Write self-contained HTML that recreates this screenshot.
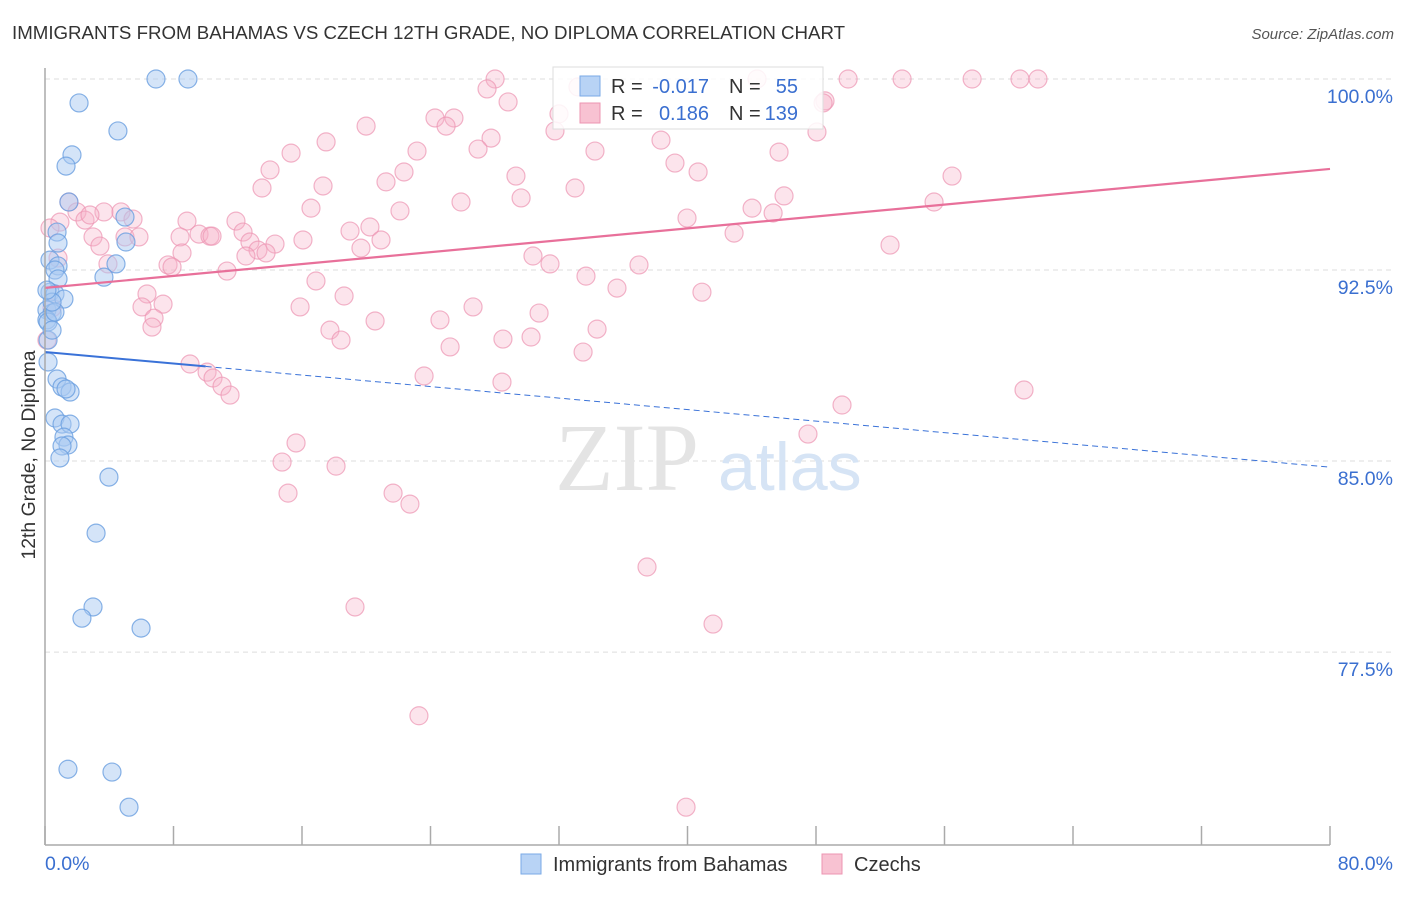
<!DOCTYPE html>
<html><head><meta charset="utf-8"><style>
body{margin:0;background:#fff;font-family:"Liberation Sans",sans-serif}
svg text{font-family:"Liberation Sans",sans-serif}
</style></head><body>
<svg id="chart" width="1406" height="892" xmlns="http://www.w3.org/2000/svg">
<text x="12" y="39" font-size="18.7" fill="#333">IMMIGRANTS FROM BAHAMAS VS CZECH 12TH GRADE, NO DIPLOMA CORRELATION CHART</text>
<text x="1394" y="39" font-size="15" fill="#555" font-style="italic" text-anchor="end">Source: ZipAtlas.com</text>
<g id="grid"></g>
<text x="555" y="490" font-size="96" fill="#e4e4e4" style="font-family:'Liberation Serif',serif">ZIP</text>
<text x="718" y="490" font-size="68" fill="#d6e4f5">atlas</text>
<g id="pts"></g>
<g id="lines"></g>
<g id="axes"></g>
<text transform="translate(35,455) rotate(-90)" font-size="19.4" fill="#333" text-anchor="middle">12th Grade, No Diploma</text>
<g>
<rect x="553" y="67" width="270" height="62" fill="#fff" fill-opacity="0.85" stroke="#ddd"/>
<rect x="580" y="76" width="20" height="20" fill="#b8d3f5" stroke="#7aa9e6"/>
<rect x="580" y="103" width="20" height="20" fill="#f8c2d2" stroke="#ec94b2"/>
<text x="611" y="93" font-size="20" fill="#333">R =</text><text x="709" y="93" font-size="20" fill="#3a6fd0" text-anchor="end">-0.017</text>
<text x="729" y="93" font-size="20" fill="#333">N =</text><text x="798" y="93" font-size="20" fill="#3a6fd0" text-anchor="end">55</text>
<text x="611" y="120" font-size="20" fill="#333">R =</text><text x="709" y="120" font-size="20" fill="#3a6fd0" text-anchor="end">0.186</text>
<text x="729" y="120" font-size="20" fill="#333">N =</text><text x="798" y="120" font-size="20" fill="#3a6fd0" text-anchor="end">139</text>
</g>
<g>
<rect x="521" y="854" width="20" height="20" fill="#b8d3f5" stroke="#7aa9e6"/>
<text x="553" y="871" font-size="20" fill="#333">Immigrants from Bahamas</text>
<rect x="822" y="854" width="20" height="20" fill="#f8c2d2" stroke="#ec94b2"/>
<text x="854" y="871" font-size="20" fill="#333">Czechs</text>
</g>
</svg>
<script>
const yTicks=[100,92.5,85,77.5];
const yTickLabels=["100.0%","92.5%","85.0%","77.5%"];
const xTicks=[0,8,16,24,32,40,48,56,64,72,80];
const blueX=[6.91,8.90,2.12,4.54,1.68,1.31,1.49,4.98,0.75,0.81,5.04,4.42,0.31,0.81,0.62,0.81,3.67,0.31,0.62,1.18,0.12,0.44,0.12,0.19,0.62,0.19,0.19,0.75,1.06,1.56,1.31,0.62,1.06,1.56,1.18,1.43,1.06,0.93,3.98,3.18,2.99,2.30,5.98,1.43,4.17,5.23,0.44,0.44,0.12];
const blueY=[100,100,99.06,97.96,97.02,96.58,95.17,94.58,93.99,93.56,93.60,92.74,92.89,92.66,92.50,92.15,92.22,91.63,91.56,91.36,90.93,90.81,90.54,90.46,90.85,89.75,88.89,88.22,87.91,87.71,87.83,86.69,86.45,86.45,85.94,85.63,85.59,85.12,84.37,82.17,79.27,78.83,78.44,72.90,72.79,71.41,91.24,90.14,91.71];
const pinkX=[28.02,44.33,50.0,53.36,57.72,60.70,61.82,27.52,33.18,48.56,48.44,28.83,32.0,24.28,25.46,19.99,24.97,31.75,48.06,27.77,17.50,23.16,34.24,15.32,26.96,38.35,45.70,39.22,14.01,22.35,29.32,40.66,21.23,13.51,17.31,33.0,56.47,46.01,25.90,29.64,55.35,1.49,16.56,22.10,44.02,45.33,0.93,1.99,3.67,4.73,5.48,2.49,2.80,8.84,11.89,39.97,18.99,20.23,12.33,4.98,2.99,3.42,5.85,8.41,9.59,10.27,10.40,16.06,20.92,12.76,14.32,13.26,12.51,42.90,13.76,52.61,19.67,8.53,30.38,31.44,3.92,7.66,7.91,11.33,36.98,33.68,16.87,6.35,18.62,35.61,40.90,7.35,15.88,26.65,6.04,6.79,6.66,20.55,24.59,30.76,17.74,34.37,18.43,28.51,30.26,25.22,33.50,9.03,10.09,10.46,11.02,11.52,23.60,28.45,60.95,49.62,47.50,15.63,14.76,18.12,15.13,21.67,22.72,37.48,19.30,41.59,23.28,39.91,0.12,0.44,0.81,0.31];
const pinkY=[100,100,100,100,100,100,100,99.61,99.69,99.14,99.06,99.10,98.63,98.47,98.47,98.15,98.15,97.96,97.92,97.68,97.53,97.17,97.17,97.09,97.25,97.60,97.13,96.70,96.43,96.35,96.19,96.35,95.96,95.72,95.80,95.72,96.19,95.41,95.17,95.33,95.17,95.17,94.93,94.82,94.93,94.74,94.38,94.78,94.78,94.78,94.50,94.46,94.66,94.42,94.42,94.54,94.03,94.19,93.99,93.80,93.80,93.44,93.80,93.80,93.91,93.83,93.83,93.68,93.68,93.60,93.52,93.28,93.05,93.95,93.17,93.48,93.36,93.17,93.05,92.74,92.74,92.70,92.62,92.46,92.70,92.26,92.07,91.56,91.48,91.79,91.63,91.16,91.05,91.05,91.05,90.61,90.26,90.50,90.54,90.81,90.14,90.18,89.75,89.79,89.87,89.48,89.28,88.81,88.49,88.26,87.94,87.59,88.34,88.10,87.79,87.20,86.06,85.71,84.96,84.80,83.74,83.74,83.31,80.84,79.27,78.60,75.00,71.41,89.75,91.01,92.97,94.15];
const pinkLine=[91.8,96.47];
const blueLine=[89.28,84.76];
const blueSolidEnd=10;
const NS="http://www.w3.org/2000/svg";
const X0=45,X1=1330,Ytop=79,Ypx=25.47;
const sx=v=>X0+(v/80)*(X1-X0);
const sy=v=>Ytop+(100-v)*Ypx;
function mk(tag,attrs,parent){const e=document.createElementNS(NS,tag);for(const k in attrs)e.setAttribute(k,attrs[k]);parent.appendChild(e);return e;}
const grid=document.getElementById('grid'),axes=document.getElementById('axes'),pts=document.getElementById('pts'),lines=document.getElementById('lines');
yTicks.forEach((t,i)=>{
 const l=mk('line',{x1:X0,x2:1394,y1:sy(t),y2:sy(t),stroke:'#ddd','stroke-dasharray':'5,4'},grid);
 
 
 const tx=mk('text',{x:1393,y:sy(t)+24,'font-size':19.5,fill:'#3a6fd0','text-anchor':'end'},axes);
 tx.textContent=yTickLabels[i];
 
 
});
const ya=mk('line',{x1:X0,x2:X0,y1:68,y2:845,stroke:'#aaa','stroke-width':1.5},axes);


const xa=mk('line',{x1:X0,x2:1330,y1:845,y2:845,stroke:'#aaa','stroke-width':1.5},axes);


xTicks.forEach(t=>{
 const tk=mk('line',{x1:sx(t),x2:sx(t),y1:826,y2:845,stroke:'#aaa','stroke-width':1.5},axes);
 
 
});
const xl0=mk('text',{x:45,y:870,'font-size':19.5,fill:'#3a6fd0'},axes);xl0.textContent='0.0%';


const xl1=mk('text',{x:1393,y:870,'font-size':19.5,fill:'#3a6fd0','text-anchor':'end'},axes);xl1.textContent='80.0%';


pinkX.forEach((x,i)=>{
 const c=mk('circle',{cx:sx(x),cy:sy(pinkY[i]),r:9,fill:'#f6b3c8','fill-opacity':0.35,stroke:'#ec94b2','stroke-opacity':0.7,'stroke-width':1.2},pts);
 
 
});
blueX.forEach((x,i)=>{
 const c=mk('circle',{cx:sx(x),cy:sy(blueY[i]),r:9,fill:'#a9c9f2','fill-opacity':0.5,stroke:'#6a9fe0','stroke-opacity':0.8,'stroke-width':1.2},pts);
 
 
});
const by=x=>blueLine[0]+(blueLine[1]-blueLine[0])*x/80;
const bl1=mk('line',{x1:sx(0),y1:sy(by(0)),x2:sx(blueSolidEnd),y2:sy(by(blueSolidEnd)),stroke:'#3a72d8','stroke-width':2},lines);


const bl2=mk('line',{x1:sx(blueSolidEnd),y1:sy(by(blueSolidEnd)),x2:sx(80),y2:sy(by(80)),stroke:'#3a72d8','stroke-width':1,'stroke-dasharray':'6,4'},lines);


const pl=mk('line',{x1:sx(0),y1:sy(pinkLine[0]),x2:sx(80),y2:sy(pinkLine[1]),stroke:'#e8709a','stroke-width':2.2},lines);


</script>
</body></html>
